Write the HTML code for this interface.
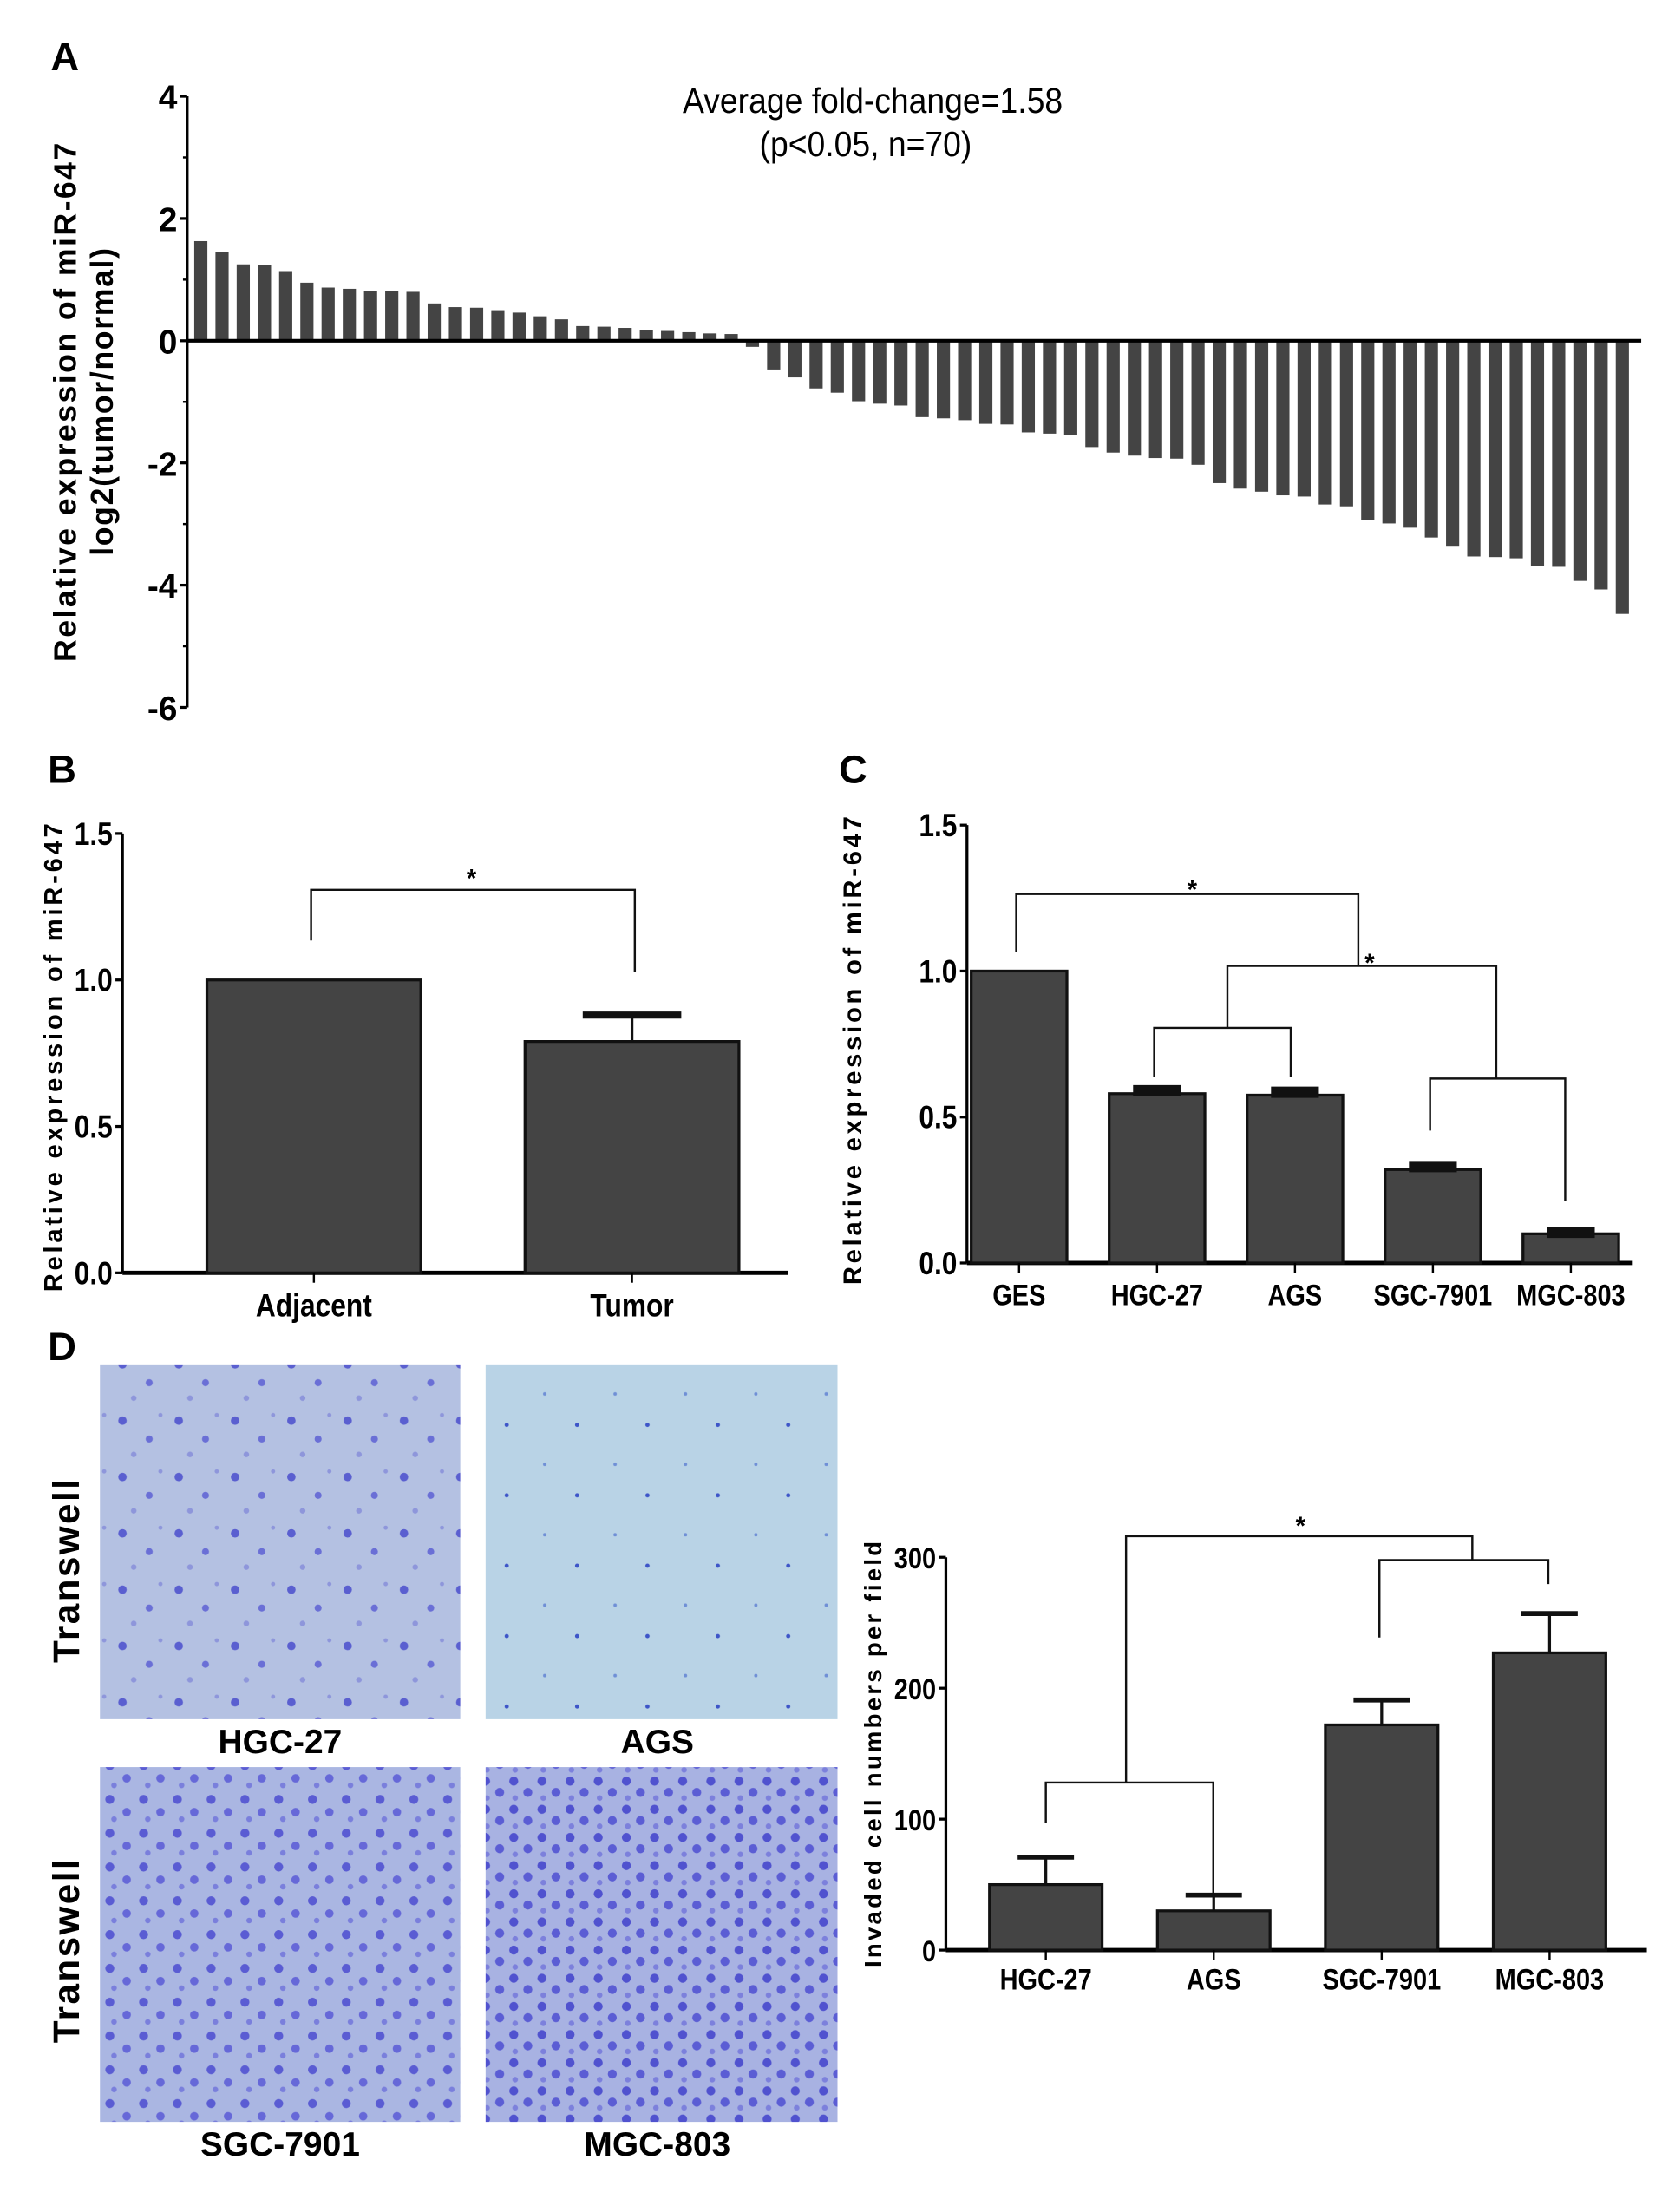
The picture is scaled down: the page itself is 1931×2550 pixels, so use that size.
<!DOCTYPE html>
<html><head><meta charset="utf-8">
<style>
html,body{margin:0;padding:0;background:#fff;}
svg{display:block;}
text{font-family:"Liberation Sans",Arial,sans-serif;}
</style></head>
<body>
<svg id="fig" width="1931" height="2550" viewBox="0 0 1190 1571" preserveAspectRatio="none" xmlns="http://www.w3.org/2000/svg">
<defs>
<pattern id="cellsA" width="40" height="40" patternUnits="userSpaceOnUse">
<rect width="40" height="40" fill="#b4c1e2"/>
<circle cx="7" cy="9" r="3" fill="#5a5fd0"/><circle cx="26" cy="22" r="2.5" fill="#6a6fd6"/><circle cx="15" cy="33" r="2" fill="#8e96db"/><circle cx="34" cy="5" r="1.5" fill="#8e96db"/>
</pattern>
<pattern id="cellsB" width="50" height="50" patternUnits="userSpaceOnUse">
<rect width="50" height="50" fill="#b9d3e6"/>
<circle cx="10" cy="12" r="1.5" fill="#3d55c8"/><circle cx="37" cy="40" r="1.2" fill="#6f8fd6"/>
</pattern>
<pattern id="cellsC" width="24" height="24" patternUnits="userSpaceOnUse">
<rect width="24" height="24" fill="#aab6e2"/>
<circle cx="6" cy="6" r="3.2" fill="#5a5cd3"/><circle cx="18" cy="15" r="3" fill="#6668d8"/><circle cx="9" cy="20" r="2" fill="#7a7fdc"/>
</pattern>
<pattern id="cellsD" width="20" height="20" patternUnits="userSpaceOnUse">
<rect width="20" height="20" fill="#a8b2e2"/>
<circle cx="5" cy="5" r="3.2" fill="#5052cf"/><circle cx="15" cy="13" r="3.2" fill="#5b5dd4"/><circle cx="6" cy="17" r="2" fill="#7c80dc"/>
</pattern>
</defs>
<g id="root"></g>
</svg>
<script>
// ===== Panel A data =====
const aValues = [1.63,1.45,1.25,1.24,1.14,0.95,0.87,0.85,0.82,0.82,0.80,0.61,0.55,0.54,0.50,0.46,0.40,0.35,0.24,0.23,0.21,0.18,0.16,0.14,0.12,0.11,
-0.1,-0.47,-0.6,-0.78,-0.85,-0.99,-1.03,-1.06,-1.25,-1.27,-1.3,-1.36,-1.37,-1.5,-1.52,-1.55,-1.74,-1.83,-1.88,-1.92,-1.93,-2.03,-2.33,-2.42,-2.47,-2.53,-2.55,-2.68,-2.71,-2.93,-2.99,-3.06,-3.22,-3.37,-3.53,-3.54,-3.56,-3.69,-3.7,-3.93,-4.07,-4.47];
const aTicks = [4,2,0,-2,-4,-6];
// ===== Panel B data =====
const bCategories = ["Adjacent","Tumor"];
const bValues = [1.0,0.79];
const bErrors = [0,0.09];
const bTicks = [0,0.5,1.0,1.5];
// ===== Panel C data =====
const cCategories = ["GES","HGC-27","AGS","SGC-7901","MGC-803"];
const cValues = [1.0,0.58,0.575,0.32,0.1];
const cErrors = [0,0.01,0.01,0.01,0.005];
const cTicks = [0,0.5,1.0,1.5];
// ===== Panel D data =====
const dCategories = ["HGC-27","AGS","SGC-7901","MGC-803"];
const dValues = [50,30,172,227];
const dErrors = [21,12,19,30];
const dTicks = [0,100,200,300];

const NS="http://www.w3.org/2000/svg";
const root=document.getElementById('root');
function el(tag,attrs,parent,txt){const e=document.createElementNS(NS,tag);for(const k in attrs)e.setAttribute(k,attrs[k]);if(txt!==undefined)e.textContent=txt;(parent||root).appendChild(e);return e;}
const BAR="#444444";

// ---------- Panel A ----------
(function(){
 const g=el('g',{});
 
 
 const x0=133,y0=242,unit=43.4; const yS=v=>y0-v*unit;
 const lab=el('text',{x:36,y:50,'font-size':28,'font-weight':'bold'},g,'A');
 
 const ax=el('line',{x1:x0,y1:yS(4),x2:x0,y2:yS(-6),stroke:'#000','stroke-width':2},g);
 
 aTicks.forEach(t=>{
  const tl=el('line',{x1:x0-5,y1:yS(t),x2:x0,y2:yS(t),stroke:'#000','stroke-width':2},g);
  
  const tt=el('text',{x:x0-7,y:yS(t)+9,'font-size':24,'font-weight':'bold','text-anchor':'end'},g,String(t));
  
 });
 for(let v=3;v>=-5;v-=2){const m=el('line',{x1:x0-3,y1:yS(v),x2:x0,y2:yS(v),stroke:'#000','stroke-width':1.5},g);}
 const n=aValues.length, start=137, end=1162, pitch=(end-start)/n;
 aValues.forEach((v,i)=>{
  const x=start+i*pitch+1; const y=Math.min(yS(v),y0), h=Math.abs(yS(v)-y0);
  const r=el('rect',{x:x,y:y,width:pitch*0.62,height:h,fill:BAR},g);
  
 });
 const zl=el('line',{x1:x0,y1:y0,x2:1166,y2:y0,stroke:'#000','stroke-width':2.5},g);
 
 const yt=el('text',{transform:'translate(54,285) rotate(-90)','font-size':22,'font-weight':'bold','text-anchor':'middle','letter-spacing':'1.5'},g,'Relative expression of miR-647');
 
 const yt2=el('text',{transform:'translate(80,285) rotate(-90)','font-size':22,'font-weight':'bold','text-anchor':'middle','letter-spacing':'1'},g,'log2(tumor/normal)');
 
 const a1=el('text',{x:620,y:80,'font-size':25,'text-anchor':'middle',transform:'translate(620,0) scale(0.92,1) translate(-620,0)'},g,'Average fold-change=1.58');
 
 const a2=el('text',{x:615,y:111,'font-size':25,'text-anchor':'middle',transform:'translate(615,0) scale(0.92,1) translate(-615,0)'},g,'(p<0.05, n=70)');
 
})();

// ---------- generic bar chart ----------
function barChart(cfg){
 const g=el('g',{});
 
 
 const yS=v=>cfg.y0-(v-cfg.ticks[0])/(cfg.ticks[cfg.ticks.length-1]-cfg.ticks[0])*(cfg.y0-cfg.yTop);
 const ax=el('line',{x1:cfg.x0,y1:cfg.yTop,x2:cfg.x0,y2:cfg.y0,stroke:'#000','stroke-width':2},g);
 
 const xa=el('line',{x1:cfg.x0,y1:cfg.y0,x2:cfg.xEnd,y2:cfg.y0,stroke:'#000','stroke-width':3},g);
 
 cfg.ticks.forEach(t=>{
  const tl=el('line',{x1:cfg.x0-5,y1:yS(t),x2:cfg.x0,y2:yS(t),stroke:'#000','stroke-width':2},g);
  
  const s=cfg.fmt(t);
  const tt=el('text',{x:cfg.x0-7,y:yS(t)+8,'font-size':cfg.tickSize,'text-anchor':'end',transform:`translate(${cfg.x0-7},0) scale(0.85,1) translate(${-(cfg.x0-7)},0)`,'font-weight':'bold'},g,s);
  
 });
 const centers=[];
 cfg.cats.forEach((c,i)=>{
  const cx=cfg.first+i*cfg.pitch; centers.push(cx);
  const v=cfg.vals[i];
  const r=el('rect',{x:cx-cfg.bw/2,y:yS(v),width:cfg.bw,height:cfg.y0-yS(v),fill:BAR,stroke:'#111','stroke-width':2},g);
  
  const e=cfg.errs[i];
  if(e>0){
   const ev=el('line',{x1:cx,y1:yS(v),x2:cx,y2:yS(v+e),stroke:'#111','stroke-width':2},g);
   
   const ec=el('line',{x1:cx-cfg.capW/2,y1:yS(v+e),x2:cx+cfg.capW/2,y2:yS(v+e),stroke:'#111','stroke-width':cfg.capT},g);
   
  }
  const xt=el('line',{x1:cx,y1:cfg.y0,x2:cx,y2:cfg.y0+7,stroke:'#000','stroke-width':1.5},g);
  
  const lt=el('text',{x:cx,y:cfg.y0+cfg.labOff,'font-size':cfg.labSize,'font-weight':'bold','text-anchor':'middle',transform:`translate(${cx},0) scale(0.85,1) translate(${-cx},0)`},g,c);
  
 });
 const yt=el('text',{transform:`translate(${cfg.titleX},${cfg.titleY}) rotate(-90)`,'font-size':cfg.titleSize,'font-weight':'bold','text-anchor':'middle','letter-spacing':cfg.ls},g,cfg.title);
 
 return {g,yS,centers};
}
function path(g,d,name){const p=el('path',{d:d,fill:'none',stroke:'#111','stroke-width':1.5},g);}
function star(g,x,y,name){const s=el('text',{x:x,y:y,'font-size':18,'font-weight':'bold','text-anchor':'middle'},g,'*');}

// ---------- Panel B ----------
(function(){
 const l=el('text',{x:34,y:556,'font-size':28,'font-weight':'bold'},root,'B');
 
 const c=barChart({name:'panel-b',x0:87,y0:904,yTop:592,xEnd:560,ticks:bTicks,fmt:t=>t.toFixed(1),tickSize:23,
  cats:bCategories,vals:bValues,errs:bErrors,first:223,pitch:226,bw:152,capW:70,capT:5,labOff:31,labSize:23,
  title:'Relative expression of miR-647',titleX:44,titleY:750,titleSize:18,ls:'2.3'});
 path(c.g,'M221 668 V632 H451 V690','bracket-b');
 star(c.g,335,630,'significance-star-b');
})();

// ---------- Panel C ----------
(function(){
 const l=el('text',{x:596,y:556,'font-size':28,'font-weight':'bold'},root,'C');
 
 const c=barChart({name:'panel-c',x0:687,y0:897,yTop:586,xEnd:1160,ticks:cTicks,fmt:t=>t.toFixed(1),tickSize:23,
  cats:cCategories,vals:cValues,errs:cErrors,first:724,pitch:98,bw:68,capW:34,capT:8,labOff:30,labSize:21,
  title:'Relative expression of miR-647',titleX:612,titleY:745,titleSize:18,ls:'2.3'});
 path(c.g,'M722 676 V635 H965 V686','bracket-c-ges');
 path(c.g,'M872 730 V686 H1063 V766','bracket-c-groups');
 path(c.g,'M820 765 V730 H917 V765','bracket-c-hgc-ags');
 path(c.g,'M1016 803 V766 H1112 V853','bracket-c-sgc-mgc');
 star(c.g,847,638,'significance-star-c1');
 star(c.g,973,690,'significance-star-c2');
})();

// ---------- Panel D images ----------
(function(){
 const l=el('text',{x:34,y:966,'font-size':28,'font-weight':'bold'},root,'D');
 
 const imgs=[[71,969,'cellsA','HGC-27'],[345,969,'cellsB','AGS'],[71,1255,'cellsC','SGC-7901'],[345,1255,'cellsD','MGC-803']];
 imgs.forEach(([x,y,p,name])=>{
  const r=el('rect',{x:x,y:y,width:(x===71?256:250),height:252,fill:`url(#${p})`});
  
  const cx=x+(x===71?128:122);
  const t=el('text',{x:cx,y:y+276,'font-size':24,'font-weight':'bold','text-anchor':'middle'},root,name);
  
 });
 [1115,1385].forEach((cy,i)=>{
  const t=el('text',{transform:`translate(56,${cy}) rotate(-90)`,'font-size':26,'font-weight':'bold','text-anchor':'middle','letter-spacing':'1.5'},root,'Transwell');
  
 });
})();

// ---------- Panel D chart ----------
(function(){
 const c=barChart({name:'panel-d-chart',x0:672,y0:1385,yTop:1106,xEnd:1170,ticks:dTicks,fmt:t=>String(t),tickSize:21,
  cats:dCategories,vals:dValues,errs:dErrors,first:743,pitch:119.3,bw:80,capW:40,capT:3.5,labOff:28,labSize:21,
  title:'Invaded cell numbers per field',titleX:626,titleY:1245,titleSize:17,ls:'2'});
 path(c.g,'M800 1266 V1091 H1046 V1108','bracket-d-top');
 path(c.g,'M743 1295 V1266 H862 V1346','bracket-d-hgc-ags');
 path(c.g,'M980 1163 V1108 H1100 V1125','bracket-d-sgc-mgc');
 star(c.g,924,1090,'significance-star-d');
})();
</script>
</body></html>
